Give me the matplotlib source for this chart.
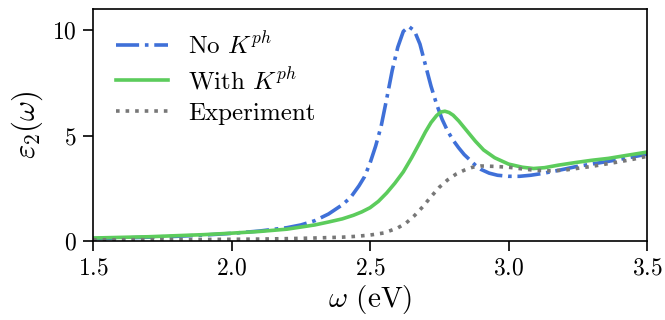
import matplotlib
matplotlib.use("Agg")
import matplotlib.pyplot as plt
import numpy as np

plt.rcParams['font.family'] = 'serif'
plt.rcParams['font.serif'] = ['cmr10']
plt.rcParams['mathtext.fontset'] = 'cm'
plt.rcParams['axes.formatter.use_mathtext'] = True

# without phonon kernel
w_nok = [1.50, 1.60, 1.70, 1.80, 1.90, 2.00, 2.10, 2.20, 2.25, 2.30, 2.35, 2.40,
         2.43, 2.46, 2.48, 2.50, 2.52, 2.54, 2.56, 2.58, 2.60, 2.62, 2.64, 2.66,
         2.68, 2.70, 2.72, 2.74, 2.76, 2.78, 2.80, 2.82, 2.84, 2.86, 2.88, 2.90,
         2.93, 2.96, 3.00, 3.04, 3.08, 3.12, 3.18, 3.24, 3.30, 3.36, 3.42, 3.50]
eps_nok = [0.11, 0.14, 0.18, 0.22, 0.28, 0.36, 0.47, 0.63, 0.76, 0.96, 1.28, 1.72,
           2.07, 2.62, 3.05, 3.70, 4.50, 5.45, 6.75, 8.10, 9.20, 9.95, 10.18, 9.98,
           9.35, 8.35, 7.35, 6.50, 5.78, 5.22, 4.78, 4.42, 4.10, 3.85, 3.60, 3.40,
           3.22, 3.12, 3.07, 3.07, 3.12, 3.20, 3.35, 3.52, 3.65, 3.78, 3.92, 4.12]

# with phonon kernel
w_k = [1.50, 1.60, 1.70, 1.80, 1.90, 2.00, 2.10, 2.20, 2.30, 2.35, 2.40, 2.44,
       2.47, 2.50, 2.53, 2.56, 2.59, 2.62, 2.65, 2.68, 2.70, 2.72, 2.74, 2.755,
       2.77, 2.785, 2.80, 2.82, 2.85, 2.88, 2.91, 2.95, 3.00, 3.05, 3.09, 3.13,
       3.18, 3.24, 3.30, 3.36, 3.42, 3.50]
eps_k = [0.14, 0.17, 0.20, 0.25, 0.30, 0.37, 0.45, 0.56, 0.76, 0.90, 1.05, 1.22,
         1.38, 1.58, 1.88, 2.28, 2.75, 3.28, 3.95, 4.68, 5.18, 5.62, 5.95, 6.12,
         6.16, 6.10, 5.97, 5.70, 5.22, 4.74, 4.32, 3.95, 3.65, 3.50, 3.44, 3.48,
         3.60, 3.72, 3.83, 3.92, 4.05, 4.22]

# experiment
w_exp = [1.50, 1.70, 1.90, 2.10, 2.20, 2.30, 2.40, 2.45, 2.50, 2.55, 2.60, 2.63,
         2.66, 2.69, 2.72, 2.75, 2.78, 2.81, 2.84, 2.87, 2.90, 2.95, 3.00, 3.05,
         3.10, 3.15, 3.20, 3.25, 3.30, 3.35, 3.40, 3.45, 3.50]
eps_exp = [0.05, 0.06, 0.07, 0.09, 0.11, 0.14, 0.18, 0.22, 0.28, 0.38, 0.62, 0.85,
           1.20, 1.62, 2.10, 2.55, 2.90, 3.17, 3.36, 3.50, 3.56, 3.54, 3.50, 3.42,
           3.35, 3.33, 3.36, 3.45, 3.54, 3.65, 3.76, 3.88, 4.02]

fig = plt.figure(figsize=(6.65, 3.2), dpi=100)
ax = fig.add_axes([0.14, 0.247, 0.833, 0.724])

ax.plot(w_nok, eps_nok, '-.', color='#3f70d8', lw=2.6, label=r'No $K^{ph}$')
ax.plot(w_k, eps_k, '-', color='#5ccc5c', lw=2.6, label=r'With $K^{ph}$')
ax.plot(w_exp, eps_exp, ':', color='#777777', lw=2.6, label='Experiment')

ax.set_xlim(1.5, 3.5)
ax.set_ylim(0, 11)
ax.set_xticks([1.5, 2.0, 2.5, 3.0, 3.5])
ax.set_yticks([0, 5, 10])
ax.tick_params(labelsize=17, length=7, width=1.2, direction='out', pad=5)
for s in ax.spines.values():
    s.set_linewidth(1.2)

ax.set_xlabel(r'$\omega$ (eV)', fontsize=21, labelpad=2)
ax.set_ylabel(r'$\varepsilon_2(\omega)$', fontsize=22, labelpad=5)
ax.legend(loc='upper left', frameon=False, fontsize=18, handlelength=2.1,
          handletextpad=0.8, borderaxespad=0.5, labelspacing=0.35)

fig.savefig('out.png', dpi=100)
